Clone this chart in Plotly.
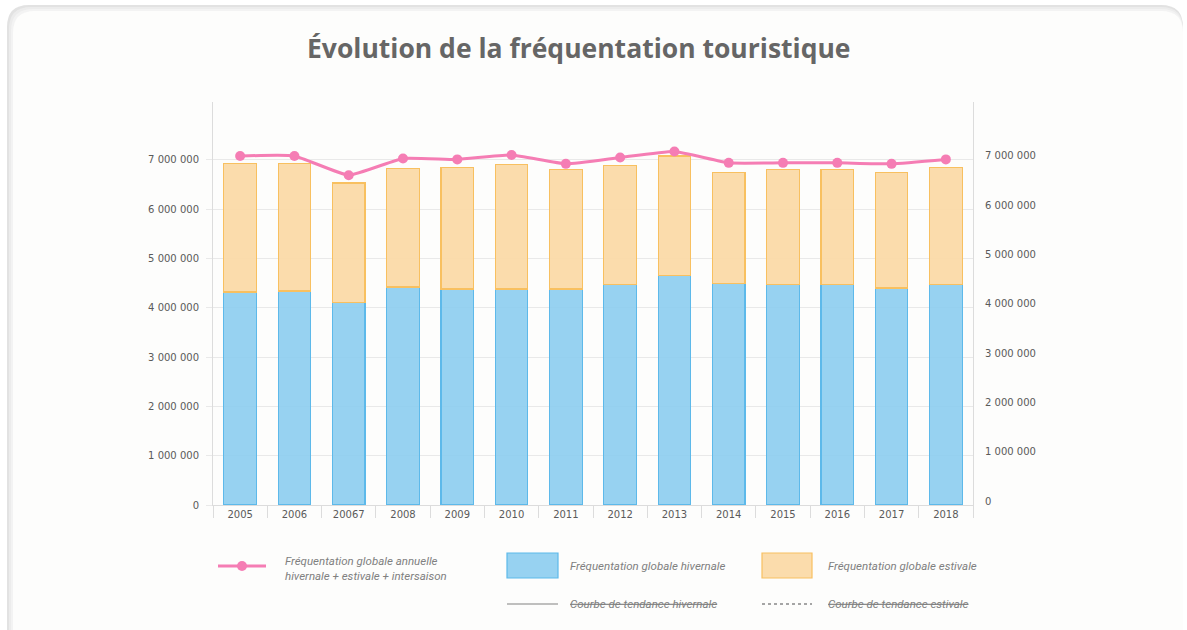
import plotly.graph_objects as go

years = ["2005", "2006", "20067", "2008", "2009", "2010", "2011", "2012", "2013",
         "2014", "2015", "2016", "2017", "2018"]
winter = [4320000, 4340000, 4100000, 4420000, 4380000, 4380000, 4380000, 4480000,
          4660000, 4500000, 4480000, 4480000, 4400000, 4480000]
summer = [2600000, 2580000, 2430000, 2400000, 2460000, 2520000, 2420000, 2400000,
          2420000, 2250000, 2320000, 2320000, 2350000, 2360000]
annual = [7080000, 7080000, 6690000, 7030000, 7010000, 7100000, 6920000, 7050000,
          7170000, 6940000, 6940000, 6940000, 6920000, 7010000]
tick_vals = [0, 1000000, 2000000, 3000000, 4000000, 5000000, 6000000, 7000000]
tick_text = ["0", "1 000 000", "2 000 000", "3 000 000", "4 000 000", "5 000 000",
             "6 000 000", "7 000 000"]

W, H = 1187, 630
L, R, T, B = 213, 973, 102, 505
PW, PH = R - L, B - T


def px(x):
    return (x - L) / PW


def py(y):
    return (B - y) / PH


fig = go.Figure()
fig.add_trace(go.Bar(x=years, y=winter, name="Fréquentation globale hivernale",
                     marker=dict(color="rgba(140,205,240,0.9)",
                                 line=dict(color="#5db9ea", width=1.2)),
                     showlegend=False, hoverinfo="skip"))
fig.add_trace(go.Bar(x=years, y=summer, name="Fréquentation globale estivale",
                     marker=dict(color="rgba(251,218,168,0.95)",
                                 line=dict(color="#f8c060", width=1.2)),
                     showlegend=False, hoverinfo="skip"))
fig.add_trace(go.Scatter(x=years, y=annual, mode="lines+markers",
                         line=dict(color="#f57db4", width=3, shape="spline", smoothing=0.4),
                         marker=dict(color="#f57db4", size=10),
                         showlegend=False, hoverinfo="skip"))
fig.add_trace(go.Scatter(x=years, y=annual, yaxis="y2", mode="lines",
                         opacity=0, showlegend=False, hoverinfo="skip"))

ymax = PH / 49.3 * 1e6
shift = 4 / 49.3 * 1e6

tickfont = dict(family="DejaVu Sans", size=10, color="#5a5a5a")
fig.update_layout(
    width=W, height=H,
    margin=dict(l=L, r=W - R, t=T, b=H - B),
    paper_bgcolor="white", plot_bgcolor="rgba(0,0,0,0)",
    barmode="stack", bargap=0.40,
    xaxis=dict(type="category", range=[-0.5, len(years) - 0.5], showline=True,
               linecolor="#dcdcdc", linewidth=1,
               ticks="outside", tickson="boundaries", ticklen=12, tickcolor="#dcdcdc",
               tickfont=tickfont, showgrid=False, zeroline=False),
    yaxis=dict(range=[0, ymax], tickvals=tick_vals, ticktext=tick_text,
               tickfont=tickfont, showline=True, linecolor="#dcdcdc",
               gridcolor="#e9e9e9", gridwidth=1, zeroline=False,
               ticks="outside", ticklen=6, tickcolor="#e9e9e9", ticklabelstandoff=5),
    yaxis2=dict(range=[-shift, ymax - shift], tickvals=tick_vals, ticktext=tick_text,
                tickfont=tickfont, overlaying="y", side="right", showgrid=False,
                showline=True, linecolor="#dcdcdc", zeroline=False,
                ticks="outside", ticklen=9, tickcolor="rgba(0,0,0,0)"),
    font=dict(family="Roboto", color="#555"),
)

shapes = []
# card background with soft top/left shading
for i, col in enumerate(["#e2e2e2", "#ececec", "#f3f3f3", "#f8f8f8"]):
    x0, y0, x1, y1 = 7 + i * 2, 5 + i * 2, 1183, 700
    r = 22
    path = (f"M {px(x0)},{py(y0 + r)} Q {px(x0)},{py(y0)} {px(x0 + r)},{py(y0)} "
            f"L {px(x1 - r)},{py(y0)} Q {px(x1)},{py(y0)} {px(x1)},{py(y0 + r)} "
            f"L {px(x1)},{py(y1)} L {px(x0)},{py(y1)} Z")
    shapes.append(dict(type="path", xref="paper", yref="paper", path=path,
                       fillcolor=col if i < 3 else "#fdfdfc", line=dict(width=0),
                       layer="below"))

# legend symbols
shapes.append(dict(type="line", xref="paper", yref="paper", x0=px(218), x1=px(266),
                   y0=py(566), y1=py(566), line=dict(color="#f57db4", width=3)))
shapes.append(dict(type="circle", xref="paper", yref="paper", x0=px(237), x1=px(247),
                   y0=py(561), y1=py(571), fillcolor="#f57db4", line=dict(width=0)))
shapes.append(dict(type="rect", xref="paper", yref="paper", x0=px(507), x1=px(558),
                   y0=py(553), y1=py(578), fillcolor="rgba(140,205,240,0.9)",
                   line=dict(color="#5db9ea", width=1.2)))
shapes.append(dict(type="rect", xref="paper", yref="paper", x0=px(762), x1=px(812),
                   y0=py(553), y1=py(578), fillcolor="rgba(251,218,168,0.95)",
                   line=dict(color="#f8c060", width=1.2)))
shapes.append(dict(type="line", xref="paper", yref="paper", x0=px(507), x1=px(558),
                   y0=py(604), y1=py(604), line=dict(color="#aaaaaa", width=1.5)))
shapes.append(dict(type="line", xref="paper", yref="paper", x0=px(762), x1=px(812),
                   y0=py(604), y1=py(604), line=dict(color="#888888", width=1.5, dash="dot")))
fig.update_layout(shapes=shapes)

legfont = dict(family="Roboto", size=11.5, color="#808080")
ann = [
    dict(text="<i>Fréquentation globale annuelle<br>hivernale + estivale + intersaison</i>",
         x=px(283), y=py(568), xanchor="left", yanchor="middle", align="left"),
    dict(text="<i>Fréquentation globale hivernale</i>", x=px(568), y=py(566),
         xanchor="left", yanchor="middle", align="left"),
    dict(text="<i>Fréquentation globale estivale</i>", x=px(826), y=py(566),
         xanchor="left", yanchor="middle", align="left"),
    dict(text="<i><s>Courbe de tendance hivernale</s></i>", x=px(568), y=py(604),
         xanchor="left", yanchor="middle", align="left"),
    dict(text="<i><s>Courbe de tendance estivale</s></i>", x=px(826), y=py(604),
         xanchor="left", yanchor="middle", align="left"),
]
for a in ann:
    a.update(xref="paper", yref="paper", showarrow=False, font=legfont)
ann.append(dict(text="Évolution de la fréquentation touristique",
                xref="paper", yref="paper", x=px(578), y=py(48), xanchor="center",
                yanchor="middle", showarrow=False,
                font=dict(family="Open Sans", size=26.5, color="#666", weight=700)))
fig.update_layout(annotations=ann)

fig.write_html("out.html", config={"displayModeBar": False},
               post_script="document.body.style.margin='0';"
                           "document.body.style.overflow='hidden';")
